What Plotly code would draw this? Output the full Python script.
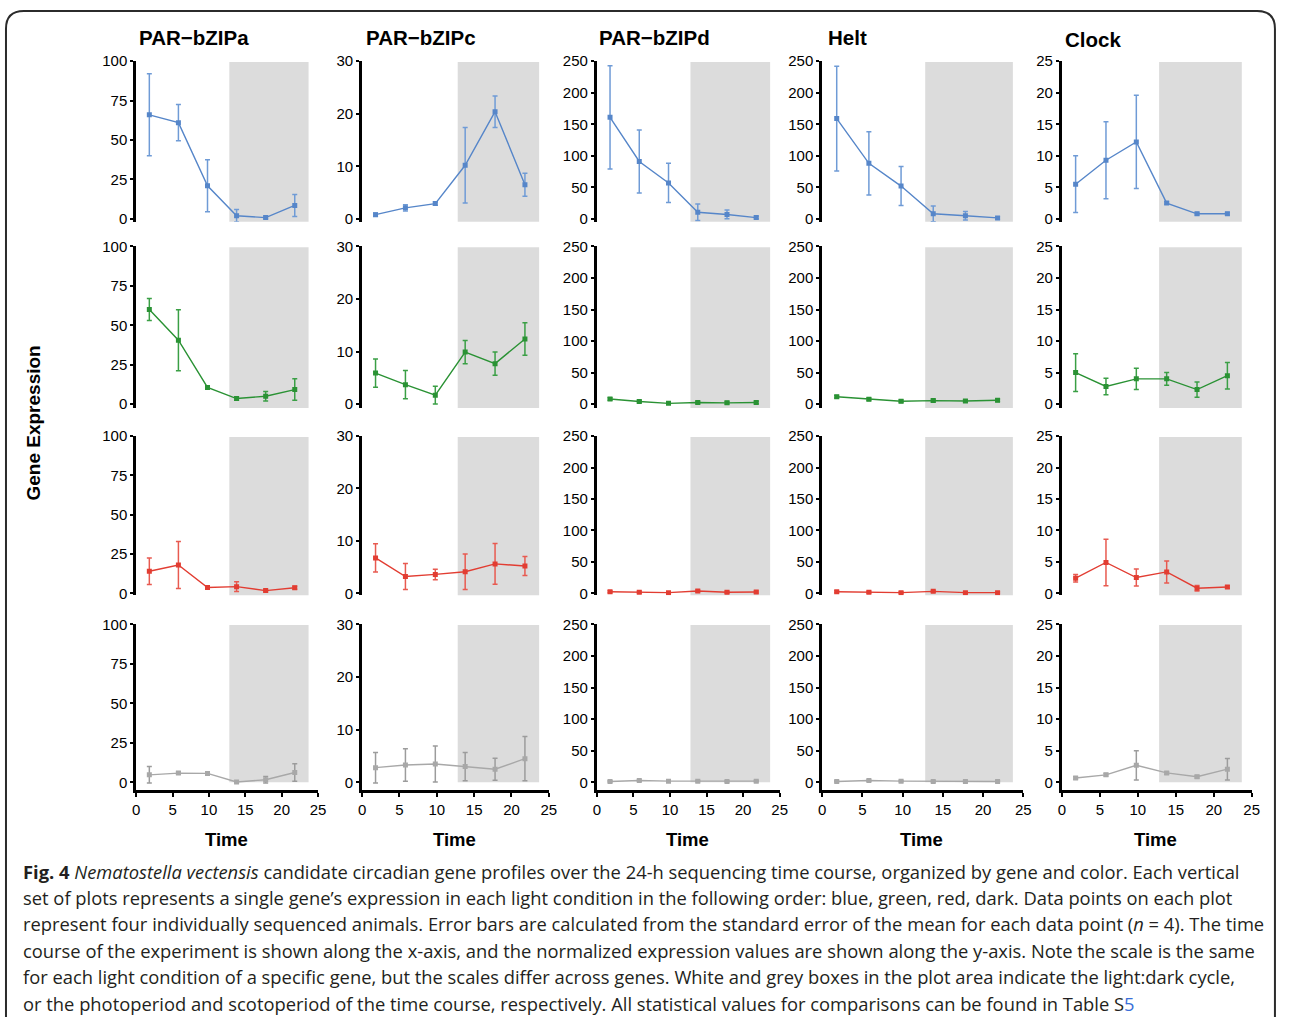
import plotly.graph_objects as go

# ---------------- data ----------------
TIME = [1.8, 5.8, 9.8, 13.8, 17.8, 21.8]
DARK_START = 12.8
DARK_END = 23.7

GENES = ["PAR−bZIPa", "PAR−bZIPc", "PAR−bZIPd", "Helt", "Clock"]
GENE_YMAX = [100, 30, 250, 250, 25]
GENE_DTICK = [25, 10, 50, 50, 5]
CONDITIONS = ["blue", "green", "red", "dark"]
X_TICKS = [0, 5, 10, 15, 20, 25]

# PAR-bZIPa
a_blue = [66, 61, 21, 2, 0.8, 8.5]
a_blue_sem = [26, 11.5, 16.5, 4, 0.8, 7]
a_green = [60, 40.5, 10.6, 3.5, 5, 9.2]
a_green_sem = [7, 19.3, 1, 1, 3, 6.8]
a_red = [14, 18, 3.7, 4.2, 1.7, 3.5]
a_red_sem = [8.4, 15, 1, 3.1, 0.7, 1]
a_dark = [4.8, 5.9, 5.7, 0.3, 1.7, 6.3]
a_dark_sem = [5.2, 0.8, 0.8, 0.5, 2, 5.5]

# PAR-bZIPc
c_blue = [0.8, 2.1, 2.9, 10.2, 20.4, 6.5]
c_blue_sem = [0.3, 0.6, 0.3, 7.2, 3, 2.2]
c_green = [5.9, 3.7, 1.7, 9.9, 7.7, 12.4]
c_green_sem = [2.7, 2.7, 1.7, 2.2, 2.2, 3.1]
c_red = [6.75, 3.2, 3.6, 4.1, 5.6, 5.2]
c_red_sem = [2.7, 2.5, 1, 3.4, 3.9, 1.8]
c_dark = [2.8, 3.3, 3.5, 3.0, 2.5, 4.5]
c_dark_sem = [2.9, 3.1, 3.4, 2.7, 2.1, 4.2]

# PAR-bZIPd
d_blue = [161, 91, 57, 10.5, 7, 2]
d_blue_sem = [82, 50, 31, 13, 7, 2]
d_green = [8, 4, 1.2, 2.5, 2, 2.5]
d_green_sem = [2, 2, 1.5, 2, 2, 2]
d_red = [2.5, 1.5, 1, 3.5, 1.5, 2]
d_red_sem = [1.5, 1.5, 1.5, 1.5, 1.5, 1.5]
d_dark = [1.5, 3, 2, 2, 1.5, 2]
d_dark_sem = [1, 1, 1, 1, 1, 1]

# Helt
h_blue = [159, 88, 52, 8, 5, 1.5]
h_blue_sem = [83, 50, 31, 12.5, 6.8, 2]
h_green = [11.7, 7.6, 4.5, 5.5, 5, 6]
h_green_sem = [2, 2, 2, 2, 2, 2]
h_red = [2.5, 1.5, 1, 3, 1, 1]
h_red_sem = [1.5, 1.5, 1.5, 1.5, 1.5, 1.5]
h_dark = [1.5, 3, 2, 1.5, 1.5, 1.5]
h_dark_sem = [1, 1, 1, 1, 1, 1]

# Clock
k_blue = [5.5, 9.3, 12.2, 2.5, 0.8, 0.8]
k_blue_sem = [4.5, 6.1, 7.4, 0.2, 0.2, 0.2]
k_green = [5.0, 2.8, 4.0, 4.0, 2.3, 4.5]
k_green_sem = [3, 1.3, 1.7, 1, 1.2, 2.1]
k_red = [2.4, 4.9, 2.5, 3.4, 0.8, 1.0]
k_red_sem = [0.6, 3.7, 1.35, 1.75, 0.45, 0.2]
k_dark = [0.7, 1.2, 2.7, 1.5, 0.9, 2.1]
k_dark_sem = [0.2, 0.2, 2.3, 0.2, 0.2, 1.7]

SERIES = [
    [(a_blue, a_blue_sem), (a_green, a_green_sem), (a_red, a_red_sem), (a_dark, a_dark_sem)],
    [(c_blue, c_blue_sem), (c_green, c_green_sem), (c_red, c_red_sem), (c_dark, c_dark_sem)],
    [(d_blue, d_blue_sem), (d_green, d_green_sem), (d_red, d_red_sem), (d_dark, d_dark_sem)],
    [(h_blue, h_blue_sem), (h_green, h_green_sem), (h_red, h_red_sem), (h_dark, h_dark_sem)],
    [(k_blue, k_blue_sem), (k_green, k_green_sem), (k_red, k_red_sem), (k_dark, k_dark_sem)],
]

CAPTION = [
    "<b>Fig. 4</b> <i>Nematostella vectensis</i> candidate circadian gene profiles over the 24-h sequencing time course, organized by gene and color. Each vertical",
    "set of plots represents a single gene’s expression in each light condition in the following order: blue, green, red, dark. Data points on each plot",
    "represent four individually sequenced animals. Error bars are calculated from the standard error of the mean for each data point (<i>n</i> = 4). The time",
    "course of the experiment is shown along the x-axis, and the normalized expression values are shown along the y-axis. Note the scale is the same",
    "for each light condition of a specific gene, but the scales differ across genes. White and grey boxes in the plot area indicate the light:dark cycle,",
    "or the photoperiod and scotoperiod of the time course, respectively. All statistical values for comparisons can be found in Table S<span style='color:#3a6fd8'>5</span>",
]

# ---------------- styles / layout ----------------
WIN_W, WIN_H = 1293, 1033
PAGE_MARGIN = 8                      # default body margin of the html page
W, H = WIN_W - 2 * PAGE_MARGIN, WIN_H - 2 * PAGE_MARGIN
LINE_COL = {"blue": "#5686c9", "green": "#2a9234", "red": "#e23d32", "dark": "#a8a8a8"}
ERR_COL = {"blue": "#6f9bd6", "green": "#3a9f45", "red": "#e85a50", "dark": "#9c9c9c"}
GREY_BOX = "#dcdcdc"
SANS = "Liberation Sans, Arial, sans-serif"

# window-pixel layout guides
COL_PX = [(141.5, 325), (369.5, 558), (606.5, 791), (834, 1037), (1076, 1267.5)]
ROW_PX = [(61, 221, 224), (249, 409, 413), (441.5, 601, 603), (632.5, 793, 800.5)]


def fx(p):
    return (p - PAGE_MARGIN) / W


def fy(p):
    return 1 - (p - PAGE_MARGIN) / H


fig = go.Figure()
shapes = []
annotations = []

for r, cond in enumerate(CONDITIONS):
    top, zero, bottom = ROW_PX[r]
    for c, gene in enumerate(GENES):
        n = r * 5 + c + 1
        sfx = "" if n == 1 else str(n)
        ymax = GENE_YMAX[c]
        ymin = -(bottom - zero) / (zero - top) * ymax
        x0p, x1p = COL_PX[c]
        mean, sem = SERIES[c][r]

        fig.add_trace(go.Scatter(
            x=TIME, y=mean, mode="lines+markers",
            xaxis="x" + sfx, yaxis="y" + sfx,
            line=dict(color=LINE_COL[cond], width=1.4),
            marker=dict(symbol="square", size=5, color=LINE_COL[cond]),
            error_y=dict(type="data", array=sem, visible=True,
                         color=ERR_COL[cond], thickness=1.5, width=2.5),
            showlegend=False, hoverinfo="x+y",
        ))

        last = r == len(CONDITIONS) - 1
        fig.layout["xaxis" + sfx] = dict(
            domain=[fx(x0p), fx(x1p)], range=[0, 25], anchor="y" + sfx,
            visible=last, showgrid=False, zeroline=False,
            showline=True, linecolor="black", linewidth=3,
            ticks="outside", ticklen=4, tickwidth=2, tickcolor="black",
            tickvals=X_TICKS, tickfont=dict(family=SANS, size=15, color="black"),
        )
        fig.layout["yaxis" + sfx] = dict(
            domain=[fy(bottom), fy(top)], range=[ymin, ymax], anchor="x" + sfx,
            showgrid=False, zeroline=False,
            showline=True, linecolor="black", linewidth=3,
            ticks="outside", ticklen=3, tickwidth=2, tickcolor="black",
            tick0=0, dtick=GENE_DTICK[c],
            tickfont=dict(family=SANS, size=15, color="black"),
        )
        shapes.append(dict(
            type="rect", layer="below", xref="x" + sfx, yref="y" + sfx + " domain",
            x0=DARK_START, x1=DARK_END,
            y0=0.045 if last else 0.0, y1=0.995,
            fillcolor=GREY_BOX, line=dict(width=0),
        ))

# gene titles
TITLE_PX = [(142, 37), (371, 37), (607, 37), (838, 37), (1077, 39)]
for g, (tx, ty) in zip(GENES, TITLE_PX):
    annotations.append(dict(
        text="<b>" + g + "</b>", xref="paper", yref="paper", x=fx(tx), y=fy(ty),
        xanchor="left", yanchor="middle", showarrow=False,
        font=dict(family=SANS, size=20.5, color="black"),
    ))

# Time labels
for x0p, x1p in COL_PX:
    annotations.append(dict(
        text="<b>Time</b>", xref="paper", yref="paper", x=fx((x0p + x1p) / 2 - 1), y=fy(851),
        xanchor="center", yanchor="middle", showarrow=False,
        font=dict(family=SANS, size=18.5, color="black"),
    ))

annotations.append(dict(
    text="<b>Gene Expression</b>", xref="paper", yref="paper", x=fx(38), y=fy(428),
    xanchor="center", yanchor="middle", showarrow=False, textangle=-90,
    font=dict(family=SANS, size=19, color="black"),
))

# caption
for i, line in enumerate(CAPTION):
    annotations.append(dict(
        text=line, xref="paper", yref="paper", x=fx(25), y=fy(883 + i * 26.8),
        xanchor="left", yanchor="middle", showarrow=False, align="left",
        font=dict(family="Open Sans, Noto Sans, sans-serif", size=18.35, color="#231f20"),
    ))

# outer rounded frame (open at the bottom, runs off the page)
R = 18
x0b, y0b, x1b = fx(10), fy(10), fx(1291)
rx, ry = R / W, R / H
frame = (f"M {x0b},-0.02 L {x0b},{y0b - ry} Q {x0b},{y0b} {x0b + rx},{y0b} "
         f"L {x1b - rx},{y0b} Q {x1b},{y0b} {x1b},{y0b - ry} L {x1b},-0.02")
shapes.append(dict(type="path", xref="paper", yref="paper", path=frame,
                   line=dict(color="#2b2b2b", width=2)))

fig.update_layout(
    width=W, height=H, margin=dict(l=0, r=0, t=0, b=0),
    paper_bgcolor="white", plot_bgcolor="rgba(0,0,0,0)",
    shapes=shapes, annotations=annotations, showlegend=False,
)

fig.write_html("out.html")
